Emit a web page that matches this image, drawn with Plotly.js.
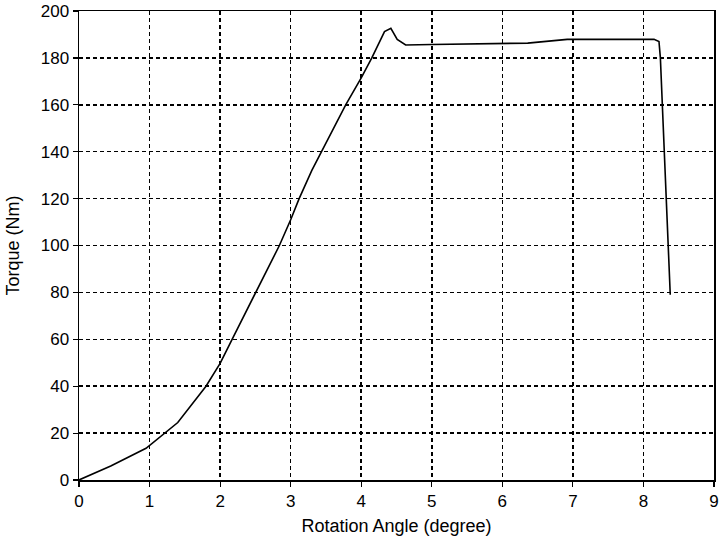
<!DOCTYPE html>
<html>
<head>
<meta charset="utf-8">
<script src="https://cdn.plot.ly/plotly-3.0.1.min.js"></script>
<style>html,body{margin:0;padding:0;background:#fff;}#chart{width:720px;height:542px;}</style>
</head>
<body>
<div id="chart"></div>
<script>
// Rotation angle (degree)
var angle = [0, 0.45, 0.95, 1.4, 1.8, 2.0, 2.17, 2.51, 2.84, 3.0, 3.12, 3.3, 3.42, 3.78, 4.0, 4.15, 4.33, 4.42, 4.51, 4.63, 5.0, 6.0, 6.36, 6.92, 8.15, 8.22, 8.24, 8.38];
// Torque (Nm)
var torque = [0, 6, 13.5, 24.5, 40, 49.7, 60, 80, 100, 111, 120, 132, 139, 160, 171.5, 180, 191.2, 192.6, 187.9, 185.5, 185.7, 186.1, 186.3, 187.9, 187.9, 187, 180, 79];

var xTicks = [0, 1, 2, 3, 4, 5, 6, 7, 8, 9];
var yTicks = [0, 20, 40, 60, 80, 100, 120, 140, 160, 180, 200];

var font = {family: '"Liberation Sans", Arial, sans-serif', size: 17, color: '#000'};

var trace = {
  x: angle, y: torque, type: 'scatter', mode: 'lines',
  line: {color: '#000', width: 1.6},
  hoverinfo: 'skip'
};

var axisCommon = {
  showline: true, mirror: true, linecolor: '#000', linewidth: 1.5,
  showgrid: true, gridcolor: '#000', gridwidth: 1.5, griddash: '4px,3px',
  zeroline: false, ticks: 'outside', ticklen: 5, tickcolor: '#000', tickwidth: 1.2,
  tickfont: font, ticklabeloverflow: 'allow'
};

var layout = {
  width: 720, height: 542,
  margin: {l: 79, r: 6, t: 11, b: 62},
  paper_bgcolor: '#fff', plot_bgcolor: '#fff',
  showlegend: false,
  font: font,
  xaxis: Object.assign({}, axisCommon, {
    range: [0, 9], tickvals: xTicks, ticktext: xTicks.map(String),
    title: {text: 'Rotation Angle (degree)', font: {family: font.family, size: 18, color: '#000'}, standoff: 9}
  }),
  yaxis: Object.assign({}, axisCommon, {
    range: [0, 200], tickvals: yTicks, ticktext: yTicks.map(String),
    title: {text: 'Torque (Nm)', font: {family: font.family, size: 18, color: '#000'}, standoff: 16}
  })
};

Plotly.newPlot('chart', [trace], layout, {displayModeBar: false, staticPlot: true});
</script>
</body>
</html>
